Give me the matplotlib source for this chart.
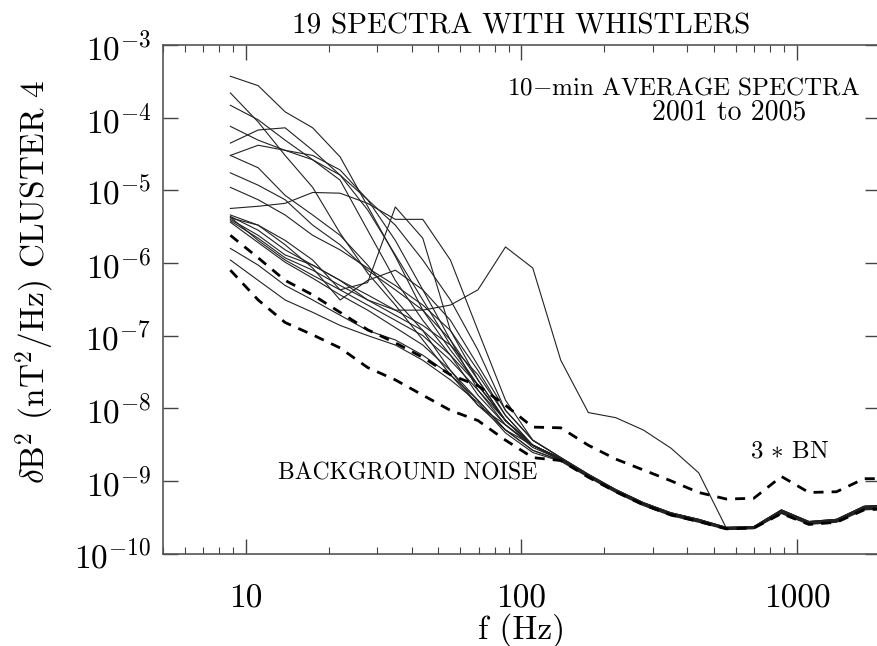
import numpy as np
import matplotlib
matplotlib.use("Agg")
import matplotlib.pyplot as plt
from matplotlib.ticker import LogLocator, NullLocator

plt.rcParams['font.family'] = 'cmr10'
plt.rcParams['mathtext.fontset'] = 'cm'
plt.rcParams['axes.formatter.use_mathtext'] = True
plt.rcParams['axes.unicode_minus'] = False

# frequencies (Hz) of the spectral points
freqs = [8.8, 11.1, 13.9, 17.5, 22.0, 27.7, 34.9, 43.9, 55.3, 69.6, 87.6, 110,
         139, 175, 220, 277, 349, 440, 554, 697, 878, 1105, 1391, 1751, 2204]

# log10 of dB^2 (nT^2/Hz) for the 19 whistler spectra
spectra_log = [
    [-3.43, -3.56, -3.92, -4.14, -4.54, -5.22, -5.91, -6.65, -7.20, -7.68, -8.17, -8.51,
     -8.69, -8.92, -9.13, -9.31, -9.45, -9.54, -9.65, -9.64, -9.41, -9.57, -9.54, -9.36, -9.34],
    [-3.66, -4.06, -4.52, -4.96, -5.59, -6.14, -6.58, -7.06, -7.54, -7.96, -8.23, -8.51,
     -8.70, -8.93, -9.14, -9.32, -9.46, -9.55, -9.66, -9.65, -9.43, -9.58, -9.55, -9.38, -9.36],
    [-3.83, -4.03, -4.31, -4.58, -4.79, -5.13, -5.48, -5.96, -6.51, -7.20, -8.03, -8.44,
     -8.68, -8.91, -9.12, -9.30, -9.44, -9.53, -9.64, -9.63, -9.40, -9.56, -9.53, -9.35, -9.33],
    [-4.12, -4.31, -4.45, -4.52, -4.72, -5.13, -5.69, -6.37, -7.06, -7.75, -8.17, -8.51,
     -8.71, -8.93, -9.14, -9.32, -9.46, -9.55, -9.66, -9.65, -9.43, -9.58, -9.55, -9.38, -9.36],
    [-4.35, -4.17, -4.14, -4.45, -4.79, -5.27, -5.89, -6.51, -7.13, -7.68, -8.17, -8.51,
     -8.69, -8.92, -9.13, -9.31, -9.45, -9.54, -9.65, -9.64, -9.41, -9.57, -9.54, -9.36, -9.34],
    [-4.52, -4.38, -4.45, -4.58, -4.86, -5.55, -6.24, -6.79, -7.27, -7.82, -8.23, -8.51,
     -8.70, -8.93, -9.14, -9.32, -9.46, -9.55, -9.66, -9.65, -9.43, -9.58, -9.55, -9.38, -9.36],
    [-4.52, -4.69, -5.07, -5.34, -5.62, -6.03, -6.51, -6.93, -7.48, -7.96, -8.30, -8.51,
     -8.72, -8.94, -9.15, -9.33, -9.47, -9.56, -9.66, -9.65, -9.44, -9.59, -9.56, -9.39, -9.37],
    [-4.76, -4.93, -5.13, -5.48, -5.75, -6.10, -6.37, -6.65, -7.06, -7.61, -8.17, -8.51,
     -8.69, -8.92, -9.13, -9.31, -9.45, -9.54, -9.65, -9.64, -9.41, -9.57, -9.54, -9.36, -9.34],
    [-4.96, -5.13, -5.34, -5.62, -5.82, -6.07, -6.31, -6.58, -6.93, -7.48, -8.10, -8.51,
     -8.70, -8.93, -9.14, -9.32, -9.46, -9.55, -9.66, -9.65, -9.43, -9.58, -9.55, -9.38, -9.36],
    [-5.25, -5.22, -5.18, -5.03, -5.04, -5.18, -5.40, -5.40, -5.96, -6.93, -7.89, -8.44,
     -8.68, -8.91, -9.12, -9.30, -9.44, -9.53, -9.64, -9.63, -9.40, -9.56, -9.53, -9.35, -9.33],
    [-5.36, -5.55, -5.82, -6.03, -6.24, -6.51, -6.65, -6.65, -6.58, -6.37, -5.78, -6.07,
     -7.34, -8.06, -8.13, -8.30, -8.55, -8.89, -9.65, -9.64, -9.41, -9.57, -9.54, -9.36, -9.34],
    [-5.38, -5.48, -5.69, -5.96, -6.37, -6.27, -5.23, -5.66, -6.93, -7.61, -8.17, -8.51,
     -8.71, -8.93, -9.14, -9.32, -9.46, -9.55, -9.66, -9.65, -9.43, -9.58, -9.55, -9.38, -9.36],
    [-5.40, -5.62, -5.89, -6.03, -6.24, -6.44, -6.65, -6.86, -7.13, -7.54, -8.10, -8.51,
     -8.70, -8.93, -9.14, -9.32, -9.46, -9.55, -9.66, -9.65, -9.43, -9.58, -9.55, -9.38, -9.36],
    [-5.42, -5.66, -5.93, -6.10, -6.31, -6.51, -6.72, -6.93, -7.27, -7.68, -8.17, -8.51,
     -8.69, -8.92, -9.13, -9.31, -9.45, -9.54, -9.65, -9.64, -9.41, -9.57, -9.54, -9.36, -9.34],
    [-5.37, -5.69, -5.96, -6.17, -6.37, -6.58, -6.79, -7.00, -7.34, -7.75, -8.23, -8.54,
     -8.71, -8.93, -9.14, -9.32, -9.46, -9.55, -9.66, -9.65, -9.43, -9.58, -9.55, -9.38, -9.36],
    [-5.44, -5.72, -5.99, -6.21, -6.44, -6.65, -6.89, -7.13, -7.48, -7.89, -8.30, -8.58,
     -8.72, -8.94, -9.15, -9.33, -9.47, -9.56, -9.66, -9.65, -9.44, -9.59, -9.56, -9.39, -9.37],
    [-5.80, -6.03, -6.31, -6.51, -6.72, -6.93, -7.06, -7.27, -7.54, -7.89, -8.30, -8.58,
     -8.72, -8.94, -9.15, -9.33, -9.47, -9.56, -9.66, -9.65, -9.44, -9.59, -9.56, -9.39, -9.37],
    [-5.96, -6.24, -6.51, -6.68, -6.86, -7.00, -7.13, -7.34, -7.61, -7.92, -8.34, -8.61,
     -8.73, -8.95, -9.16, -9.34, -9.48, -9.57, -9.67, -9.66, -9.45, -9.60, -9.57, -9.40, -9.38],
    [-5.34, -5.48, -5.75, -6.07, -6.51, -6.24, -6.10, -6.37, -6.79, -7.41, -8.03, -8.44,
     -8.68, -8.91, -9.12, -9.30, -9.44, -9.53, -9.64, -9.63, -9.40, -9.56, -9.53, -9.35, -9.33],
]

# background noise and 3 * background noise (log10)
bn_log = [-6.10, -6.51, -6.82, -6.99, -7.17, -7.44, -7.61, -7.82, -8.03, -8.17, -8.44, -8.68,
          -8.72, -8.95, -9.15, -9.33, -9.47, -9.56, -9.66, -9.65, -9.45, -9.60, -9.57, -9.40, -9.38]
bn3_log = [-5.62, -5.93, -6.24, -6.44, -6.68, -6.92, -7.10, -7.30, -7.54, -7.69, -7.96, -8.26,
           -8.27, -8.51, -8.70, -8.85, -9.00, -9.16, -9.25, -9.24, -8.94, -9.16, -9.15, -8.97, -8.97]

W, H = 877, 646
fig = plt.figure(figsize=(W / 100, H / 100), dpi=100)
ax = fig.add_axes([162.7 / W, (H - 553.5) / H, 717.3 / W, 508.5 / H])

for s in spectra_log:
    ax.plot(freqs, 10.0 ** np.array(s), color='#222222', lw=0.8)

ax.plot(freqs, 10.0 ** np.array(bn_log), color='black', lw=2.0, dashes=(3.6, 2.9))
ax.plot(freqs, 10.0 ** np.array(bn3_log), color='black', lw=2.0, dashes=(3.6, 2.9))

ax.set_xscale('log')
ax.set_yscale('log')
ax.set_xlim(5, 2000)
ax.set_ylim(1e-10, 1e-3)

ax.set_xticks([10, 100, 1000], labels=['10', '100', '1000'])
ax.xaxis.set_minor_locator(LogLocator(base=10, subs=np.arange(2, 10)))
ax.yaxis.set_major_locator(LogLocator(base=10, numticks=20))
ax.yaxis.set_minor_locator(NullLocator())

ax.tick_params(which='both', direction='in', top=True, right=True, color='#444444')
ax.tick_params(which='major', length=11, width=1.0)
ax.tick_params(which='minor', length=5, width=0.8)
ax.tick_params(axis='x', which='major', labelsize=24, pad=22)
ax.tick_params(axis='y', which='major', labelsize=24, pad=8)
for sp in ax.spines.values():
    sp.set_color('#555555')
    sp.set_linewidth(1.2)

ax.set_title('19 SPECTRA WITH WHISTLERS', fontsize=21, pad=8)
ax.set_xlabel('f (Hz)', fontsize=24)
ax.xaxis.set_label_coords(0.5, -0.118)
ax.set_ylabel(r'$\delta$B$^2$ (nT$^2$/Hz) CLUSTER 4', fontsize=24)
ax.yaxis.set_label_coords(-0.148, 0.535)

ax.text(684 / W, 1 - 88 / H, r'10$-$min AVERAGE SPECTRA', transform=fig.transFigure,
        ha='center', va='center', fontsize=18)
ax.text(729 / W, 1 - 112 / H, '2001 to 2005', transform=fig.transFigure,
        ha='center', va='center', fontsize=20)
ax.text(408 / W, 1 - 473 / H, 'BACKGROUND NOISE', transform=fig.transFigure,
        ha='center', va='center', fontsize=17)
ax.text(790 / W, 1 - 451 / H, r'3 $\ast$ BN', transform=fig.transFigure,
        ha='center', va='center', fontsize=18)

fig.savefig('out.png', dpi=100)
